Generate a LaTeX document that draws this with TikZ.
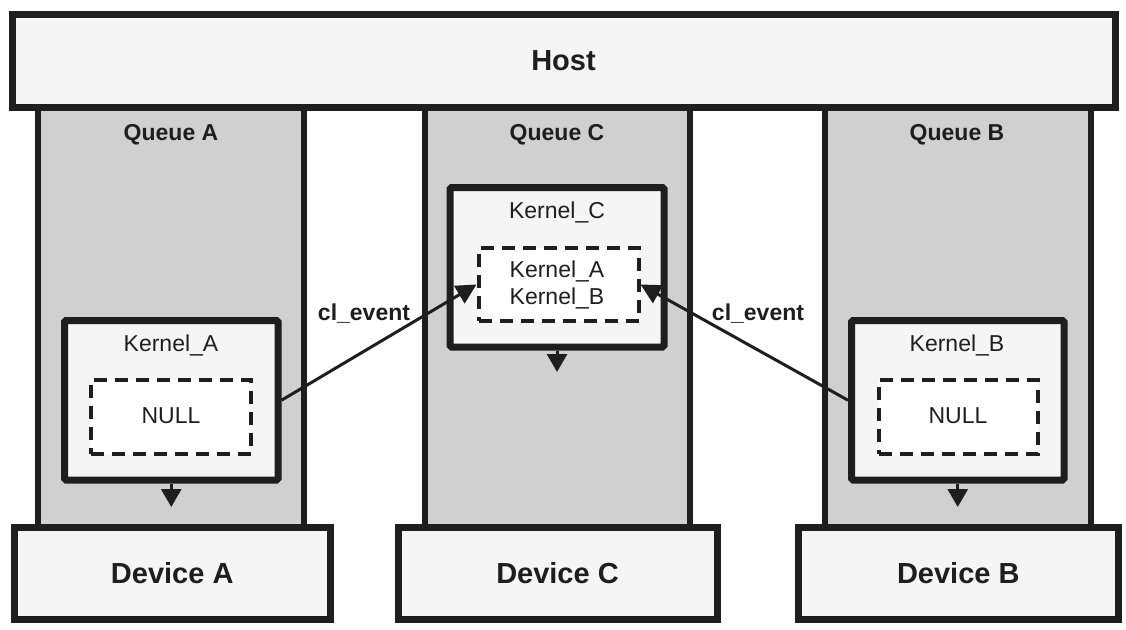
\documentclass[tikz,border=0pt]{standalone}
\usepackage{fontspec}
\setmainfont{Liberation Sans}
\usetikzlibrary{arrows.meta}
\definecolor{ink}{HTML}{1E1E1E}
\definecolor{qgray}{HTML}{D0D0D0}
\definecolor{boxfill}{HTML}{F5F5F5}
\tikzset{
  queuebox/.style={draw=ink, fill=qgray, line width=6.5pt, inner sep=0pt, rectangle},
  bigbox/.style={draw=ink, fill=boxfill, line width=7pt, inner sep=0pt, rectangle,
    font=\fontsize{29}{33}\selectfont\bfseries, text=ink},
  kernelbox/.style={draw=ink, fill=boxfill, line width=7pt, inner sep=0pt, rectangle, rounded corners=1.5pt},
  nullbox/.style={draw=ink, fill=white, line width=4pt, inner sep=0pt, rectangle,
    dash pattern=on 13pt off 8pt},
  qlabel/.style={font=\fontsize{23}{27}\selectfont\bfseries, text=ink, inner sep=0pt},
  klabel/.style={font=\fontsize{23}{27}\selectfont, text=ink, inner sep=0pt, align=center},
  evlabel/.style={font=\fontsize{23}{27}\selectfont\bfseries, text=ink, inner sep=0pt},
  downarrow/.style={draw=ink, line width=3pt, -{Triangle[width=20pt,length=18pt]}},
  evarrow/.style={draw=ink, line width=3pt, -{Triangle[width=20pt,length=20pt]}},
}
\begin{document}
\begin{tikzpicture}[x=1pt,y=-1pt]
\useasboundingbox (0,0) rectangle (1126,629);
\fill[white] (0,0) rectangle (1126,629);

% queues
\node[queuebox, minimum width=266pt, minimum height=420pt] (qA) at (171,317) {};
\node[queuebox, minimum width=265pt, minimum height=420pt] (qC) at (557.5,317) {};
\node[queuebox, minimum width=266pt, minimum height=420pt] (qB) at (958,317) {};

% host and devices
\node[bigbox, minimum width=1103pt, minimum height=93pt] (host) at (563.5,60.5) {Host};
\node[bigbox, minimum width=316.5pt, minimum height=92pt] (devA) at (172.25,573.5) {Device A};
\node[bigbox, minimum width=319pt, minimum height=92pt] (devC) at (557.5,573.5) {Device C};
\node[bigbox, minimum width=320.5pt, minimum height=92pt] (devB) at (958.25,573.5) {Device B};

% queue labels
\node[qlabel] (lqA) at (171,135) {Queue A};
\node[qlabel] (lqC) at (557,135) {Queue C};
\node[qlabel] (lqB) at (957,135) {Queue B};

% kernel boxes
\node[kernelbox, minimum width=213.5pt, minimum height=159.5pt] (kA) at (171.25,400.25) {};
\node[kernelbox, minimum width=212.5pt, minimum height=159.5pt] (kB) at (957.75,400.25) {};
\node[kernelbox, minimum width=214pt, minimum height=159.5pt] (kC) at (557,267.25) {};

\node[klabel] (lkA) at (171,345) {Kernel\_A};
\node[klabel] (lkB) at (957,345) {Kernel\_B};
\node[klabel] (lkC) at (557,212) {Kernel\_C};

% dashed inner boxes
\node[nullbox, minimum width=160pt, minimum height=74pt] (nA) at (171,417) {};
\node[nullbox, minimum width=159pt, minimum height=74pt] (nB) at (958,417) {};
\node[nullbox, minimum width=160pt, minimum height=73pt] (inC) at (558.5,284.5) {};

\node[klabel] (tnA) at (171,416) {NULL};
\node[klabel] (tnB) at (958,416) {NULL};
\node[klabel] (tkAC) at (557,271) {Kernel\_A};
\node[klabel] (tkBC) at (557,298) {Kernel\_B};

% down arrows
\coordinate (tipA) at (171.25,507);
\coordinate (tipC) at (557,372);
\coordinate (tipB) at (957.75,507);
\draw[downarrow] (kA.south) -- (tipA);
\draw[downarrow] (kC.south) -- (tipC);
\draw[downarrow] (kB.south) -- (tipB);

% cl_event arrows
\draw[evarrow] (kA.east) -- (inC.west);
\draw[evarrow] (kB.west) -- (inC.east);
\node[evlabel] (ev1) at (364,314) {cl\_event};
\node[evlabel] (ev2) at (758,314) {cl\_event};
\end{tikzpicture}
\end{document}
